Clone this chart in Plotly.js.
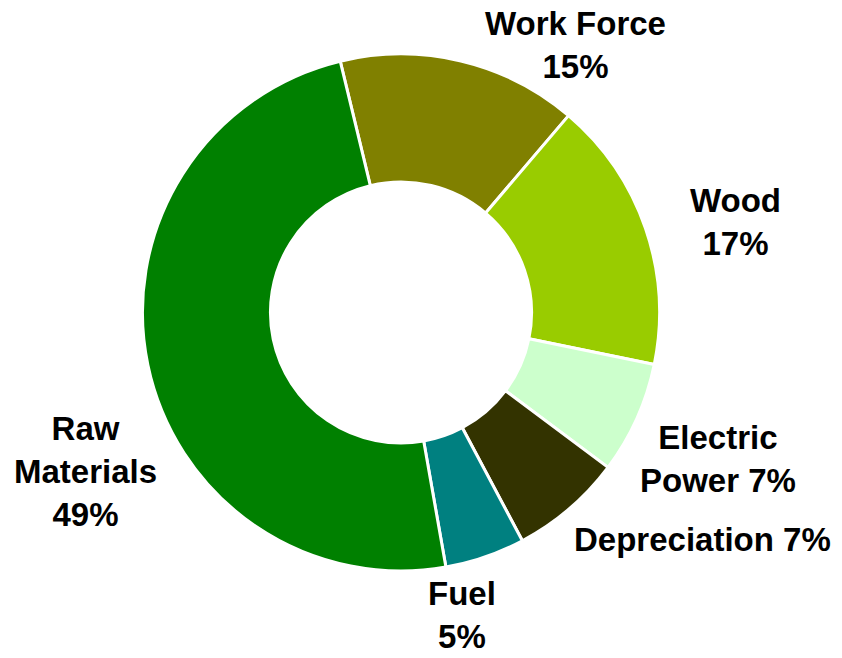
<!DOCTYPE html>
<html>
<head>
<meta charset="utf-8">
<script src="https://cdn.plot.ly/plotly-3.0.1.min.js"></script>
<style>html,body{margin:0;padding:0;background:#fff;}#chart{width:842px;height:658px;}</style>
</head>
<body>
<div id="chart"></div>
<script>
const categories = ["Work Force", "Wood", "Electric Power", "Depreciation", "Fuel", "Raw Materials"];
const shares = [15, 17, 7, 7, 5, 49];
const colors = ["#808000", "#99CC00", "#CCFFCC", "#333300", "#008080", "#008000"];
const labelLines = [["Work Force"], ["Wood"], ["Electric", "Power"], ["Depreciation"], ["Fuel"], ["Raw", "Materials"]];
const pctOnSameLine = [false, false, true, true, false, false];

const labelPos = [
  {x: 0.683, y: 0.931},
  {x: 0.873, y: 0.663},
  {x: 0.853, y: 0.303},
  {x: 0.834, y: 0.180},
  {x: 0.549, y: 0.066},
  {x: 0.101, y: 0.283}
];

const annotations = categories.map((c, i) => {
  const lines = labelLines[i].slice();
  const pct = shares[i] + "%";
  if (pctOnSameLine[i]) lines[lines.length - 1] += " " + pct; else lines.push(pct);
  return {
    text: "<b>" + lines.join("<br>") + "</b>",
    x: labelPos[i].x, y: labelPos[i].y, xref: "paper", yref: "paper",
    xanchor: "center", yanchor: "middle", align: "center", showarrow: false,
    font: {family: "Liberation Sans, Arial, sans-serif", size: 33, color: "#000"}
  };
});

Plotly.newPlot("chart", [{
  type: "pie",
  labels: categories,
  values: shares,
  sort: false,
  direction: "clockwise",
  rotation: -13.6,
  hole: 0.505,
  marker: {colors: colors, line: {color: "#ffffff", width: 3}},
  textinfo: "none",
  hoverinfo: "label+percent",
  showlegend: false,
  domain: {x: [0.1675, 0.7850], y: [0.1322, 0.9180]}
}], {
  width: 842, height: 658,
  margin: {l: 0, r: 0, t: 0, b: 0},
  paper_bgcolor: "#ffffff",
  showlegend: false,
  annotations: annotations
}, {displayModeBar: false, staticPlot: true});
</script>
</body>
</html>
